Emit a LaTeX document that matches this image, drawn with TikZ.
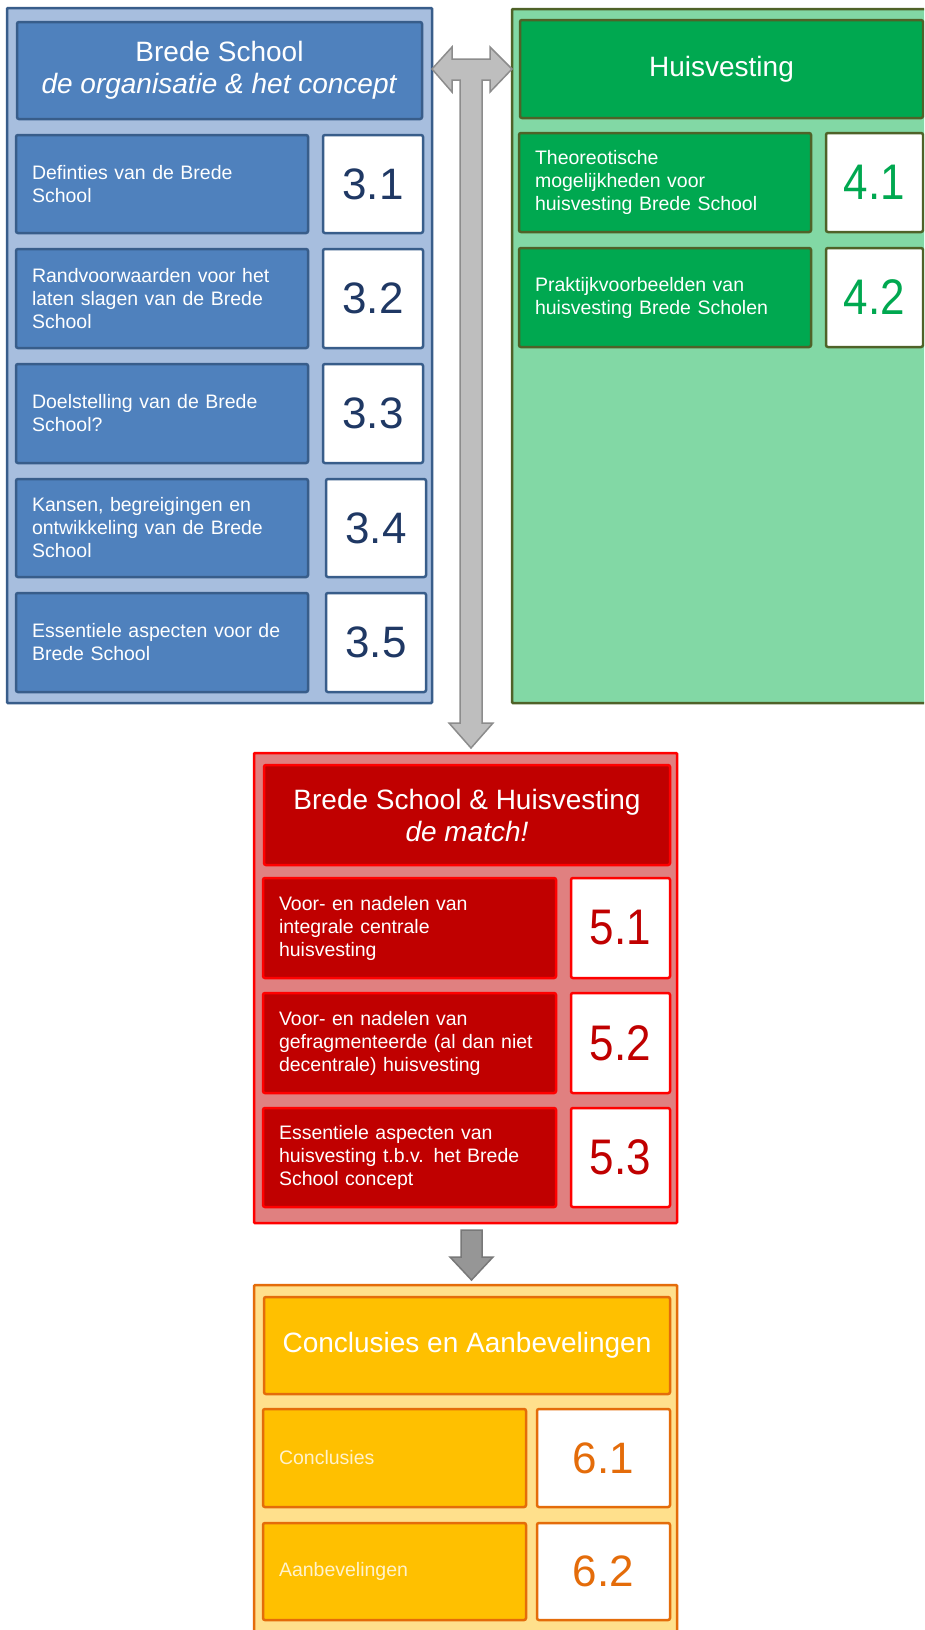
\documentclass[tikz,border=0pt]{standalone}
\usepackage{fontspec}
\setmainfont{Liberation Sans}
\usepackage{graphicx}
\definecolor{bOut}{RGB}{167,190,222}
\definecolor{bLine}{RGB}{56,93,138}
\definecolor{bFill}{RGB}{79,129,189}
\definecolor{bNum}{RGB}{31,56,100}
\definecolor{gOut}{RGB}{130,216,165}
\definecolor{gLine}{RGB}{79,98,40}
\definecolor{gFill}{RGB}{0,168,80}
\definecolor{gNum}{RGB}{0,168,80}
\definecolor{rOut}{RGB}{224,128,128}
\definecolor{rLine}{RGB}{255,0,0}
\definecolor{rFill}{RGB}{192,0,0}
\definecolor{rNum}{RGB}{192,0,0}
\definecolor{oOut}{RGB}{255,224,140}
\definecolor{oLine}{RGB}{228,108,10}
\definecolor{oFill}{RGB}{255,192,0}
\definecolor{oNum}{RGB}{228,108,10}
\definecolor{oTxt}{RGB}{255,242,204}
\definecolor{arLight}{RGB}{190,190,190}
\definecolor{arLine}{RGB}{140,140,140}
\definecolor{arDark}{RGB}{150,150,150}
\definecolor{arDarkLine}{RGB}{120,120,120}
\tikzset{
  panel/.style={line width=2.5pt, rounded corners=1pt},
  tile/.style={draw, line width=2.5pt, rounded corners=2pt, inner sep=0pt, outer sep=0pt},
  itemtxt/.style={tile, align=left, text=white, font=\fontsize{19.5}{23}\selectfont, inner xsep=16pt},
  titletxt/.style={tile, align=center, text=white, font=\fontsize{28}{32}\selectfont},
  numtxt/.style={tile, fill=white, align=center},
  bluetile/.style={draw=bLine, fill=bFill},
  greentile/.style={draw=gLine, fill=gFill},
  redtile/.style={draw=rLine, fill=rFill},
  orangetile/.style={draw=oLine, fill=oFill},
  blockarrow/.style={fill=arLight, draw=arLine, line width=1.5pt, line join=miter},
  blockarrowdark/.style={fill=arDark, draw=arDarkLine, line width=1.5pt, line join=miter}
}
% \itm{name}{style}{x1}{y1}{x2}{y2}{text}
\newcommand{\itm}[7]{%
  \pgfmathsetmacro\tw{#5-#3-30}%
  \node[itemtxt,#2, minimum width={#5pt-#3pt}, minimum height={#6pt-#4pt}, text width=\tw pt] (#1) at ({(#3+#5)/2},{(#4+#6)/2}) {#7};}
\newcommand{\ttl}[7]{%
  \node[titletxt,#2, minimum width={#5pt-#3pt}, minimum height={#6pt-#4pt}] (#1) at ({(#3+#5)/2},{(#4+#6)/2}) {#7};}
\newcommand{\num}[7]{%
  \node[numtxt,#2, minimum width={#5pt-#3pt}, minimum height={#6pt-#4pt}] (#1) at ({(#3+#5)/2},{(#4+#6)/2}) {#7};}
\newcommand{\bigA}[1]{{\fontsize{44}{44}\selectfont #1}}
\newcommand{\bigB}[1]{\scalebox{0.88}[1]{\fontsize{50}{50}\selectfont #1}}
\begin{document}
\begin{tikzpicture}[x=1pt,y=-1pt]
\clip (0,0) rectangle (924,1630);
\fill[white] (0,0) rectangle (924,1630);

% outer panels
\draw[panel, draw=bLine, fill=bOut] (7,8) rectangle (432,703);
\draw[panel, draw=gLine, fill=gOut] (512,9) rectangle (940,703);
\draw[panel, draw=rLine, fill=rOut] (254,753) rectangle (677,1223);
\draw[panel, draw=oLine, fill=oOut] (254,1285) rectangle (677,1645);

% blue panel
\ttl{bt}{bluetile}{17}{22}{422}{119}{Brede School\\\textit{de organisatie \& het concept}}
\itm{b1}{bluetile}{17}{135}{307}{233}{Definties van de Brede\\School}
\num{n31}{draw=bLine,text=bNum}{323}{135}{423}{233}{\bigA{3.1}}
\itm{b2}{bluetile}{17}{249}{307}{348}{Randvoorwaarden  voor het\\laten slagen van de Brede\\School}
\num{n32}{draw=bLine,text=bNum}{323}{249}{423}{348}{\bigA{3.2}}
\itm{b3}{bluetile}{17}{364}{307}{463}{Doelstelling van  de Brede\\School?}
\num{n33}{draw=bLine,text=bNum}{323}{364}{423}{463}{\bigA{3.3}}
\itm{b4}{bluetile}{17}{479}{307}{577}{Kansen, begreigingen  en\\ontwikkeling van  de Brede\\School}
\num{n34}{draw=bLine,text=bNum}{326}{479}{426}{577}{\bigA{3.4}}
\itm{b5}{bluetile}{17}{593}{307}{692}{Essentiele aspecten voor  de\\Brede School}
\num{n35}{draw=bLine,text=bNum}{326}{593}{426}{692}{\bigA{3.5}}

% green panel
\ttl{gt}{greentile}{520}{20}{923}{118}{Huisvesting}
\itm{g1}{greentile}{520}{133}{810}{232}{Theoreotische\\mogelijkheden  voor\\huisvesting Brede  School}
\num{n41}{draw=gLine,text=gNum}{826}{133}{923}{232}{\bigB{4.1}}
\itm{g2}{greentile}{520}{248}{810}{347}{Praktijkvoorbeelden  van\\huisvesting  Brede Scholen}
\num{n42}{draw=gLine,text=gNum}{826}{248}{923}{347}{\bigB{4.2}}

% red panel
\ttl{rt}{redtile}{264}{765}{670}{865}{Brede School \& Huisvesting\\\textit{de match!}}
\itm{r1}{redtile}{264}{878}{555}{978}{Voor- en nadelen van\\integrale centrale\\huisvesting}
\num{n51}{draw=rLine,text=rNum}{571}{878}{670}{978}{\bigB{5.1}}
\itm{r2}{redtile}{264}{993}{555}{1093}{Voor- en nadelen van\\gefragmenteerde  (al dan niet\\decentrale) huisvesting}
\num{n52}{draw=rLine,text=rNum}{571}{993}{670}{1093}{\bigB{5.2}}
\itm{r3}{redtile}{264}{1108}{555}{1207}{Essentiele aspecten van\\huisvesting t.b.v. het Brede\\School concept}
\num{n53}{draw=rLine,text=rNum}{571}{1108}{670}{1207}{\bigB{5.3}}

% orange panel
\ttl{ot}{orangetile}{264}{1297}{670}{1394}{Conclusies en Aanbevelingen}
\itm{o1}{orangetile,text=oTxt}{264}{1409}{525}{1507}{Conclusies}
\num{n61}{draw=oLine,text=oNum}{537}{1409}{670}{1507}{\bigA{6.1}}
\itm{o2}{orangetile,text=oTxt}{264}{1523}{525}{1620}{Aanbevelingen}
\num{n62}{draw=oLine,text=oNum}{537}{1523}{670}{1620}{\bigA{6.2}}

% T-shaped block arrow
\draw[blockarrow] (432,69) -- (452,47) -- (452,59) -- (490,59) -- (490,47) -- (512,69)
  -- (490,92) -- (490,80) -- (482,80) -- (482,723) -- (493,723) -- (471,748)
  -- (449,723) -- (460,723) -- (460,80) -- (452,80) -- (452,92) -- cycle;

% arrow red -> orange
\draw[blockarrowdark] (461,1230) -- (482,1230) -- (482,1257) -- (493,1257) -- (471.5,1280)
  -- (450,1257) -- (461,1257) -- cycle;
\end{tikzpicture}
\end{document}
